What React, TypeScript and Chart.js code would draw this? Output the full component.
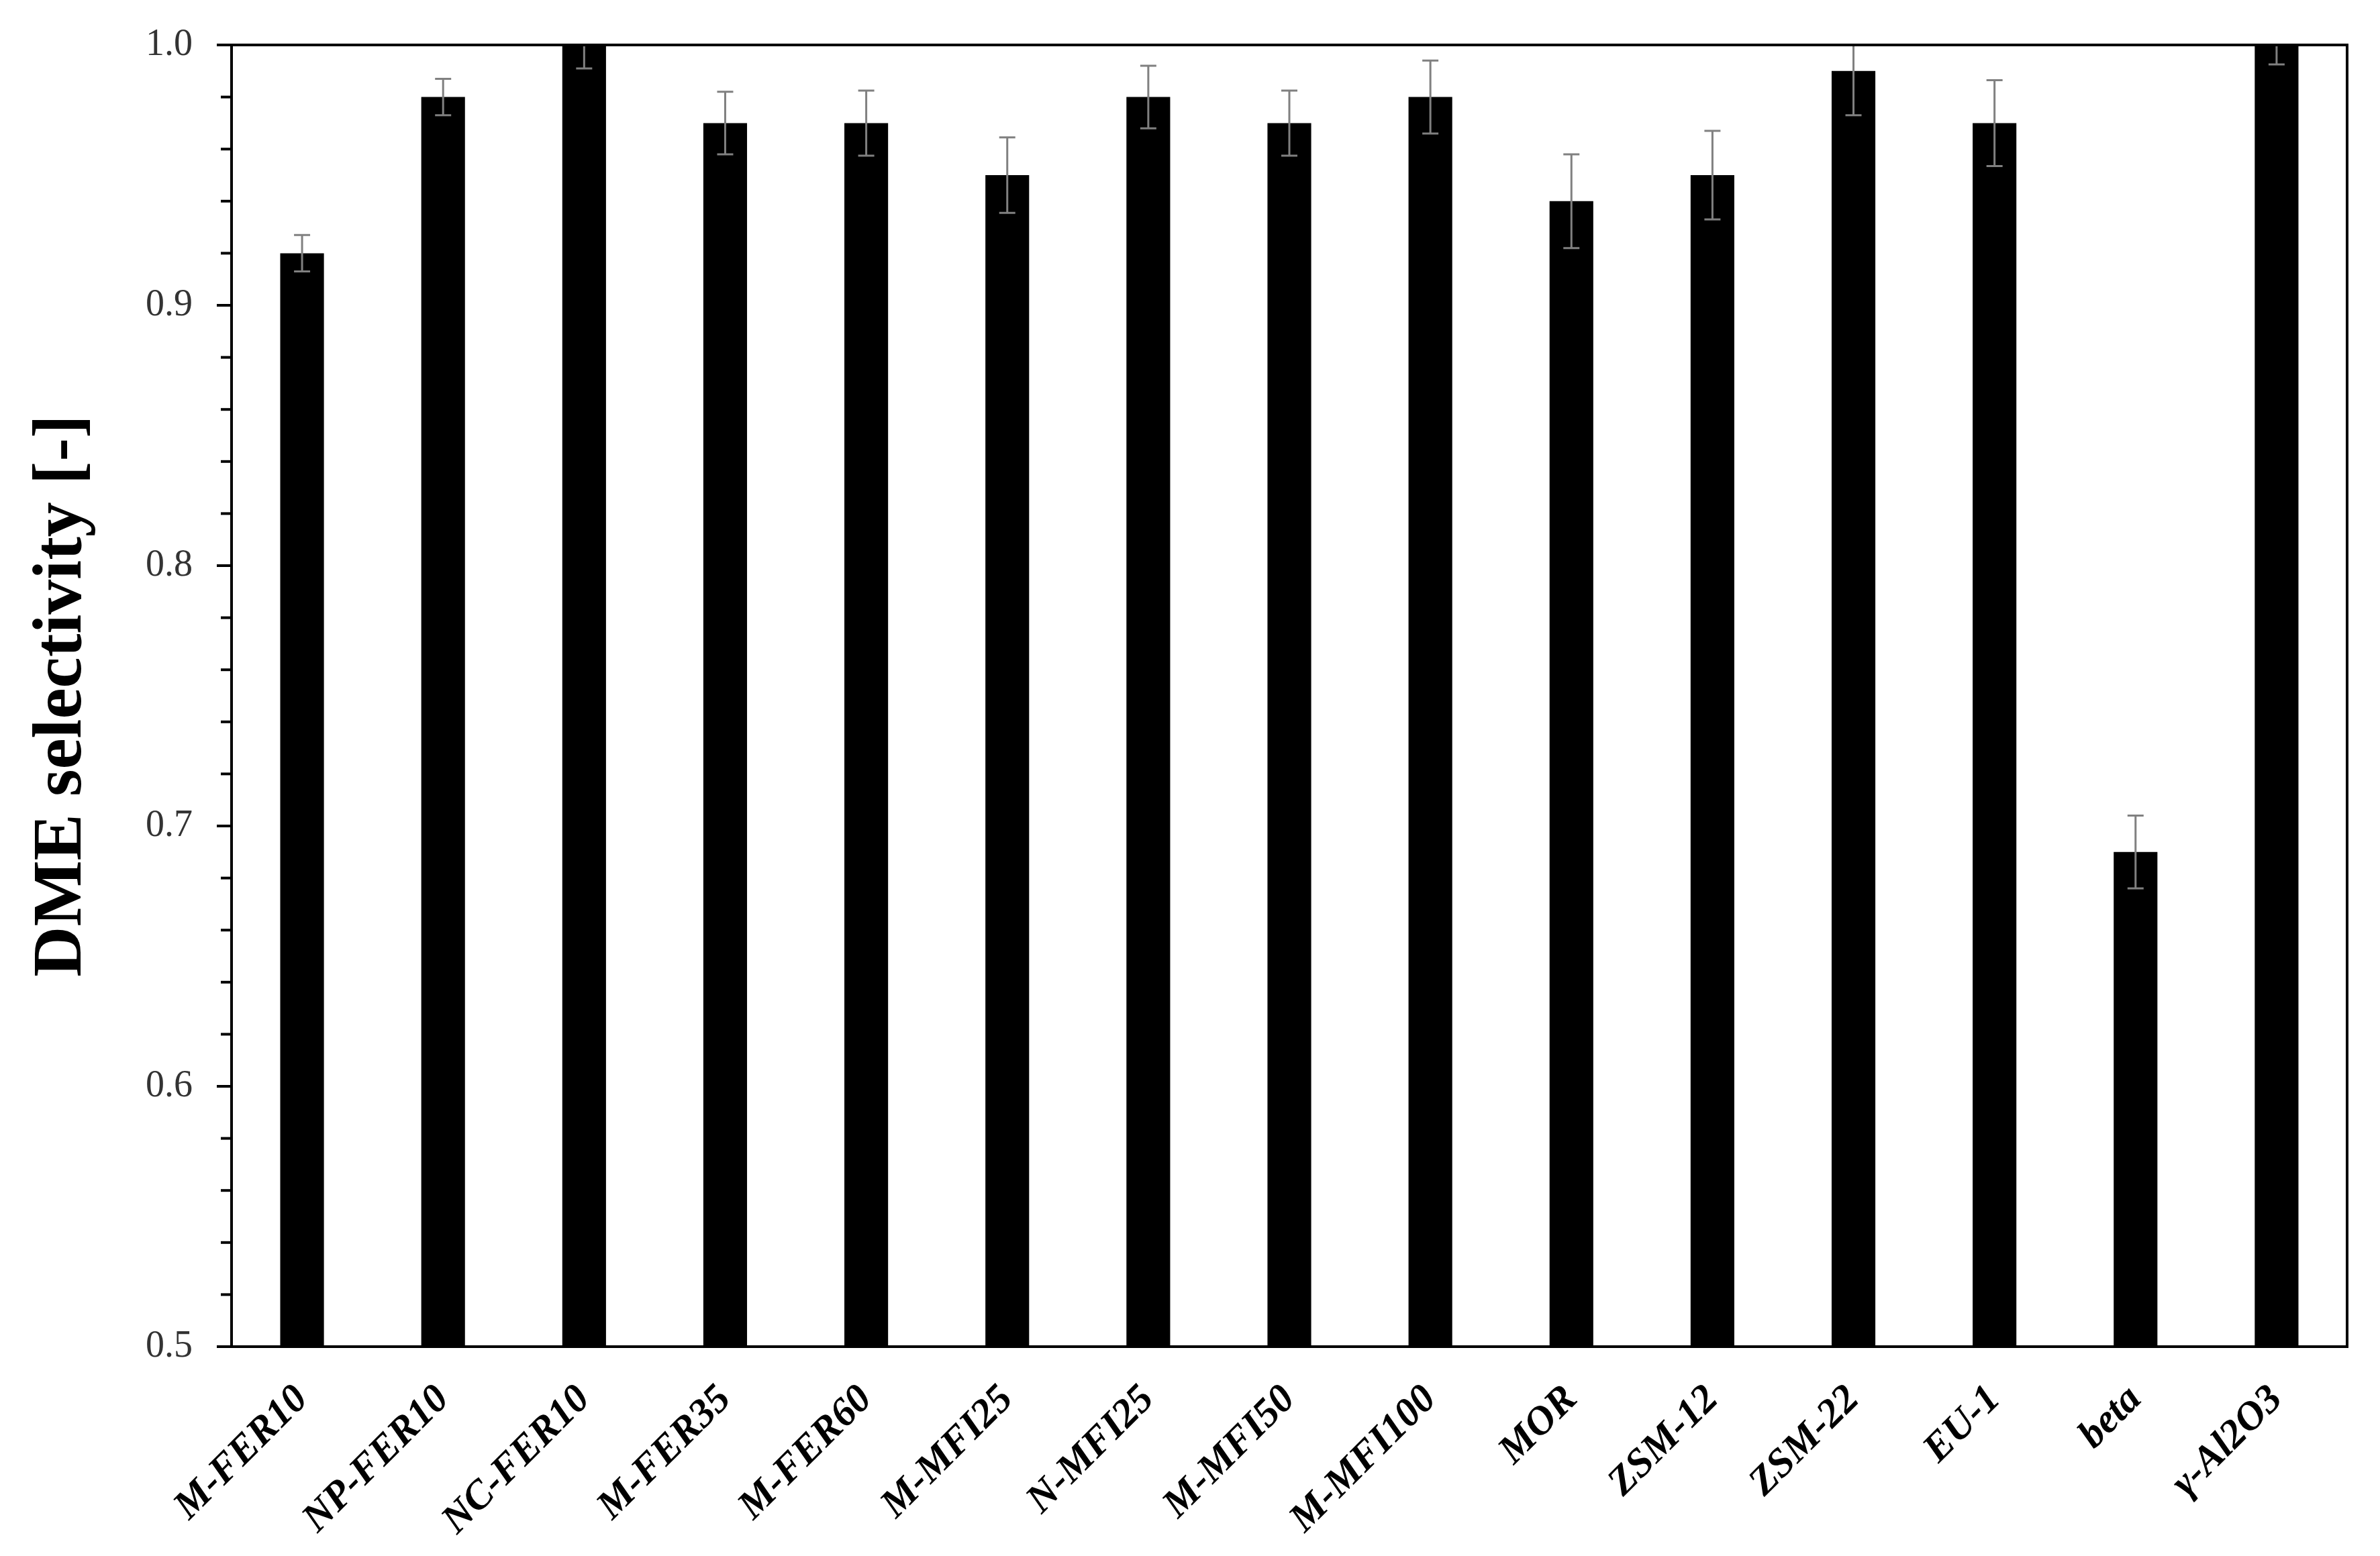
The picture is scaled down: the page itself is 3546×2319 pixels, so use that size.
import React, { useEffect, useRef } from 'react';
import { Chart, registerables } from 'chart.js';

Chart.register(...registerables);

const categories = [
  'M-FER10', 'NP-FER10', 'NC-FER10', 'M-FER35', 'M-FER60', 'M-MFI25', 'N-MFI25',
  'M-MFI50', 'M-MFI100', 'MOR', 'ZSM-12', 'ZSM-22', 'EU-1', 'beta', 'γ-Al2O3',
];
const selectivity = [0.92, 0.98, 1.0, 0.97, 0.97, 0.95, 0.98, 0.97, 0.98, 0.94, 0.95, 0.99, 0.97, 0.69, 1.0];
const errors = [0.007, 0.007, 0.009, 0.012, 0.0125, 0.0145, 0.012, 0.0125, 0.014, 0.018, 0.017, 0.017, 0.0165, 0.014, 0.0075];
const yMin = 0.5;
const yMax = 1.0;
const yMajorStep = 0.1;
const yMinorStep = 0.02;

const isMajor = (v: number) => Math.abs(v / yMajorStep - Math.round(v / yMajorStep)) < 1e-6;

const decor = {
  id: 'decor',
  afterDatasetsDraw(chart: any) {
    const { ctx, chartArea, scales } = chart;
    const { left, right, top, bottom } = chartArea;
    const y = scales.y;
    const meta = chart.getDatasetMeta(0);
    // error bars
    ctx.save();
    ctx.beginPath();
    ctx.rect(left, top, right - left, bottom - top);
    ctx.clip();
    ctx.strokeStyle = '#808080';
    ctx.lineWidth = 3;
    meta.data.forEach((bar: any, i: number) => {
      const v = selectivity[i];
      const e = errors[i];
      const yt = y.getPixelForValue(v + e);
      const yb = y.getPixelForValue(v - e);
      const cx = bar.x;
      ctx.beginPath();
      ctx.moveTo(cx, yt);
      ctx.lineTo(cx, yb);
      ctx.moveTo(cx - 12, yt);
      ctx.lineTo(cx + 12, yt);
      ctx.moveTo(cx - 12, yb);
      ctx.lineTo(cx + 12, yb);
      ctx.stroke();
    });
    ctx.restore();
    // frame
    ctx.save();
    ctx.strokeStyle = '#000';
    ctx.lineWidth = 4;
    ctx.strokeRect(left, top, right - left, bottom - top);
    // y ticks (major + minor)
    y.ticks.forEach((t: any) => {
      const py = y.getPixelForValue(t.value);
      const len = isMajor(t.value) ? 22 : 16;
      ctx.beginPath();
      ctx.moveTo(left - len, py);
      ctx.lineTo(left, py);
      ctx.stroke();
    });
    ctx.restore();
  },
};

export default function App() {
  const ref = useRef<HTMLCanvasElement>(null);
  useEffect(() => {
    if (!ref.current) return;
    const chart = new Chart(ref.current, {
      type: 'bar',
      data: {
        labels: categories,
        datasets: [
          {
            label: 'DME selectivity',
            data: selectivity,
            backgroundColor: '#000',
            borderWidth: 0,
            barPercentage: 0.31,
            categoryPercentage: 1,
          },
        ],
      },
      options: {
        responsive: false,
        animation: false,
        devicePixelRatio: 1,
        layout: { padding: { top: 67, right: 49, left: 0, bottom: 0 } },
        plugins: { legend: { display: false }, tooltip: { enabled: false } },
        scales: {
          x: {
            grid: { display: false, drawTicks: false },
            border: { display: false },
            ticks: {
              autoSkip: false,
              minRotation: 45,
              maxRotation: 45,
              padding: 44,
              color: '#000',
              font: { family: 'Liberation Serif', style: 'italic', weight: 'bold', size: 60 },
            },
            afterFit(s: any) {
              s.height = 312;
              s.paddingLeft = 0;
              s.paddingRight = 0;
              s.paddingTop = 0;
              s.paddingBottom = 0;
            },
          },
          y: {
            min: yMin,
            max: yMax,
            afterBuildTicks(s: any) {
              const vals: { value: number }[] = [];
              const n = Math.round((yMax - yMin) / yMinorStep);
              for (let i = 0; i <= n; i++) vals.push({ value: +(yMin + i * yMinorStep).toFixed(4) });
              s.ticks = vals;
            },
            grid: { display: false, drawTicks: false },
            border: { display: false },
            ticks: {
              padding: 58,
              color: '#333',
              font: { family: 'Liberation Serif', size: 56 },
              callback: (v: any) => (isMajor(Number(v)) ? Number(v).toFixed(1) : ''),
            },
            title: {
              display: true,
              text: 'DME selectivity [-]',
              color: '#000',
              font: { family: 'Liberation Serif', weight: 'bold', size: 104, lineHeight: 1 },
              padding: { top: 41, bottom: 0 },
            },
            afterFit(s: any) {
              s.width = 345;
              s.paddingLeft = 0;
              s.paddingRight = 0;
              s.paddingTop = 0;
              s.paddingBottom = 0;
            },
          },
        },
      },
      plugins: [decor],
    });
    return () => chart.destroy();
  }, []);
  return (
    <div style={{ position: 'fixed', left: 0, top: 0, width: 3546, height: 2319, background: '#fff' }}>
      <canvas ref={ref} width={3546} height={2319} />
    </div>
  );
}
